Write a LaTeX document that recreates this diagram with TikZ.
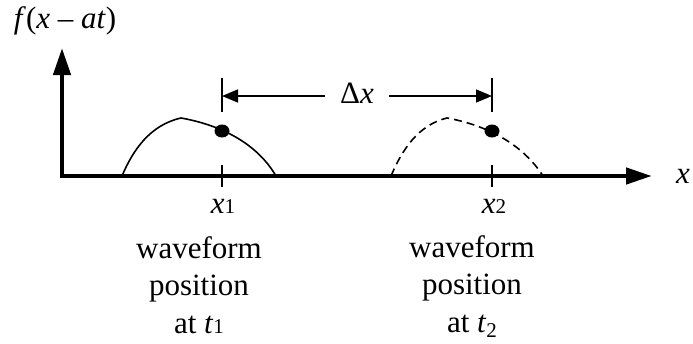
\documentclass[tikz,border=0pt]{standalone}
\usepackage{fontspec}
\setmainfont{Liberation Serif}
\usetikzlibrary{arrows.meta}
\newcommand\mysub[2][0pt]{\raisebox{#1}{\fontsize{21}{21}\selectfont #2}}
\begin{document}
\begin{tikzpicture}[x=1pt,y=-1pt,
  lbl/.style={font=\fontsize{31}{37.5}\selectfont, inner sep=0pt},
  axis/.style={line width=4.5pt, {Triangle[length=27pt,width=17pt]}-{Triangle[length=26pt,width=16pt]}},
  tickline/.style={line width=1.6pt},
  dimline/.style={line width=1.6pt},
  dimarrow/.style={line width=1.6pt, -{Triangle[length=16pt,width=13pt]}},
  wave/.style={line width=1.6pt},
  wavedash/.style={line width=1.6pt, dash pattern=on 8pt off 5pt},
  dot/.style={fill=black}
]
\useasboundingbox (0,0) rectangle (693,343);
% axes
\coordinate (O) at (62,176);
\coordinate (ytip) at (62,48);
\coordinate (xtip) at (652,176);
\draw[axis] (ytip) -- (O) -- (xtip);
\node[lbl, anchor=base] (flabel) at (65,28) {\textit{f}(\textit{x} – \textit{at})};
\node[lbl, anchor=base] (xlabel) at (683,183) {\textit{x}};
% ticks
\coordinate (x1) at (222,176);
\coordinate (x2) at (492,176);
\draw[tickline] (x1) ++(0,-11) -- ++(0,22);
\draw[tickline] (x2) ++(0,-11) -- ++(0,22);
\node[lbl, anchor=base] (x1label) at (223,213) {\textit{x}\mysub{1}};
\node[lbl, anchor=base] (x2label) at (494,213) {\textit{x}\mysub{2}};
% dimension
\coordinate (dl) at (222,96);
\coordinate (dr) at (492,96);
\draw[dimline] (dl) ++(0,-18) -- ++(0,34);
\draw[dimline] (dr) ++(0,-18) -- ++(0,34);
\node[lbl, anchor=base, inner xsep=15pt] (dx) at (357,103) {Δ\textit{x}};
\draw[dimarrow] (dx.west |- dl) -- (dl);
\draw[dimarrow] (dx.east |- dr) -- (dr);
% waveforms
\draw[wave] (122,176) .. controls (133,150) and (150,125) .. (181,118)
  .. controls (215,124) and (255,140) .. (276,176);
\draw[wavedash] (391,176) .. controls (402,150) and (418,125) .. (447,118)
  .. controls (480,124) and (520,140) .. (543,176);
\fill[dot] (222,131) ellipse [x radius=7.5pt, y radius=6.5pt];
\fill[dot] (492,131) ellipse [x radius=7.5pt, y radius=6.5pt];
% captions
\node[lbl, anchor=base, align=center] (cap1) at (199,333) {waveform\\position\\at \textit{t}\mysub{1}};
\node[lbl, anchor=base, align=center] (cap2) at (472,332) {waveform\\position\\at \textit{t}\mysub[-5pt]{2}};
\end{tikzpicture}
\end{document}
